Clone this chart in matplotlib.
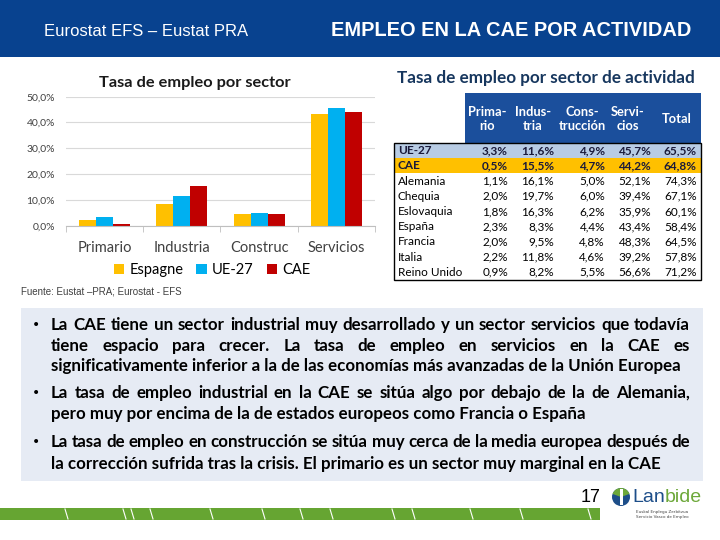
import numpy as np
import matplotlib
matplotlib.use("Agg")
import matplotlib.pyplot as plt
from matplotlib.patches import Rectangle, Circle, Wedge

# --- left chart data
sectors = ["Primario", "Industria", "Construc", "Servicios"]
espagne = [2.3, 8.3, 4.4, 43.4]
ue27 = [3.3, 11.6, 4.9, 45.7]
cae = [0.5, 15.5, 4.7, 44.2]
series_names = ["Espagne", "UE-27", "CAE"]
series_colors = ["#FFC000", "#00B0F0", "#C00000"]

# --- table data
countries = ["UE-27", "CAE", "Alemania", "Chequia", "Eslovaquia", "España",
             "Francia", "Italia", "Reino Unido"]
primario = [3.3, 0.5, 1.1, 2.0, 1.8, 2.3, 2.0, 2.2, 0.9]
industria = [11.6, 15.5, 16.1, 19.7, 16.3, 8.3, 9.5, 11.8, 8.2]
construccion = [4.9, 4.7, 5.0, 6.0, 6.2, 4.4, 4.8, 4.6, 5.5]
servicios = [45.7, 44.2, 52.1, 39.4, 35.9, 43.4, 48.3, 39.2, 56.6]
total = [65.5, 64.8, 74.3, 67.1, 60.1, 58.4, 64.5, 57.8, 71.2]
table_heads = ["Prima-\nrio", "Indus-\ntria", "Cons-\ntrucción", "Servi-\ncios", "Total"]

# --- bullet texts (one list of lines per bullet, justified except last line)
bullets = [
    ["La CAE tiene un sector industrial muy desarrollado y un sector servicios que todavía",
     "tiene espacio para crecer.  La tasa de empleo en servicios en la CAE es",
     "significativamente inferior a la de las economías más avanzadas de la Unión Europea"],
    ["La tasa de empleo industrial en la CAE se sitúa algo por debajo de la de Alemania,",
     "pero muy por encima de la de estados europeos como Francia o España"],
    ["La tasa de empleo en construcción se sitúa muy cerca de la media europea después de",
     "la corrección sufrida tras la crisis. El primario es un sector muy marginal en la CAE"],
]

def pct(v):
    return f"{v:.1f}%".replace(".", ",")

W, H = 720, 540
fig = plt.figure(figsize=(7.2, 5.4), dpi=100)
r = fig.canvas.get_renderer()

# overlay in pixel coords for the slide decoration
ov = fig.add_axes([0, 0, 1, 1], zorder=0)
ov.set_xlim(0, W)
ov.set_ylim(H, 0)
ov.axis("off")

# header
ov.add_patch(Rectangle((0, 0), W, 57, color="#08428F", lw=0))
ov.text(44, 32, "Eurostat EFS – Eustat PRA", color="white", fontsize=12,
        family="Liberation Sans", va="center", ha="left")
ov.text(331, 31, "EMPLEO EN LA CAE POR ACTIVIDAD", color="white", fontsize=14.4,
        family="Liberation Sans", weight="bold", va="center", ha="left")

# --- left bar chart
ax = fig.add_axes([66 / W, 1 - 225.7 / H, 309 / W, 129 / H], zorder=2)
ax.patch.set_alpha(0)
x = np.arange(len(sectors))
bw = 0.22
for i, (vals, name, col) in enumerate(zip([espagne, ue27, cae], series_names, series_colors)):
    ax.bar(x + (i - 1) * bw, vals, bw, color=col, label=name, zorder=2)
ax.set_xlim(-0.5, len(sectors) - 0.5)
ax.set_ylim(0, 50)
ax.set_yticks(range(0, 51, 10))
ax.set_yticklabels([pct(v) for v in range(0, 51, 10)])
ax.yaxis.grid(True, color="#D9D9D9", lw=0.8)
ax.set_axisbelow(True)
for s in ["left", "top", "right"]:
    ax.spines[s].set_visible(False)
ax.spines["bottom"].set_color("#BFBFBF")
ax.tick_params(axis="y", length=0, labelsize=7.5, labelcolor="#404040", pad=8)
ax.set_xticks(x)
ax.set_xticklabels(sectors, family="Lato", fontsize=10.5, color="#404040")
ax.set_xticks(np.arange(-0.5, len(sectors), 1), minor=True)
ax.tick_params(axis="x", which="major", length=0, pad=11)
ax.tick_params(axis="x", which="minor", length=4, color="#BFBFBF")
for lab in ax.get_yticklabels():
    lab.set_family("Lato")
ax.legend(loc="center", bbox_to_anchor=(212 / W, 1 - 270 / H),
          bbox_transform=fig.transFigure, ncol=3, frameon=False,
          prop={"family": "Lato", "size": 10.5}, handlelength=0.7,
          handleheight=0.7, handletextpad=0.35, columnspacing=0.9)
ov.text(195, 83, "Tasa de empleo por sector", family="Lato", weight="bold",
        fontsize=11.8, ha="center", va="center", color="#1A1A1A")

# --- right table
ov.text(546, 78, "Tasa de empleo por sector de actividad", family="Lato",
        weight="bold", fontsize=12.3, ha="center", va="center", color="#17375E")
ov.add_patch(Rectangle((465, 93), 236, 50, color="#1B4F9C", lw=0))
head_x = [487, 533, 582, 628, 677]
for hx, ht in zip(head_x, table_heads):
    ov.text(hx, 119, ht, family="Lato", weight="bold", fontsize=9.3, color="white",
            ha="center", va="center", linespacing=1.3)

top, bot = 143, 280
rh = (bot - top) / len(countries)
ov.add_patch(Rectangle((394, top), 307, rh, color="#B8CCE4", lw=0))
ov.add_patch(Rectangle((394, top + rh), 307, rh, color="#FFC000", lw=0))
ov.add_patch(Rectangle((394, top), 307, bot - top, fill=False, ec="black", lw=1))
col_x = [508, 554, 605, 651, 697]
cols = [primario, industria, construccion, servicios, total]
for k, name in enumerate(countries):
    yc = top + rh * (k + 0.5)
    wt = "bold" if k < 2 else "normal"
    c = "#1A1A3A" if k < 2 else "black"
    ov.text(398, yc, name, family="Lato", weight=wt, fontsize=8.5, color=c,
            ha="left", va="center")
    for cx, vals in zip(col_x, cols):
        ov.text(cx, yc, pct(vals[k]), family="Lato", weight=wt, fontsize=8.5,
                color=c, ha="right", va="center")

ov.text(21, 291, "Fuente: Eustat –PRA; Eurostat - EFS", family="Liberation Sans",
        fontsize=7, color="#404040", ha="left", va="center")

# --- bullets box
ov.add_patch(Rectangle((21, 308), 682, 173, color="#E6EBF4", lw=0))
x0, x1 = 51, 690
probe = ov.text(0, 0, bullets[0][2], family="Lato", weight="bold", fontsize=10)
bfs = 10 * (682 - x0) / probe.get_window_extent(r).width
probe.remove()
line_y = [[325, 346, 366], [393, 414], [442, 464]]
for para, ys in zip(bullets, line_y):
    ov.text(32, ys[0], "•", fontsize=10, ha="left", va="center")
    for j, (line, y) in enumerate(zip(para, ys)):
        kw = dict(family="Lato", weight="bold", fontsize=bfs, va="center", color="black")
        if j == len(para) - 1:
            ov.text(x0, y, line, ha="left", **kw)
            continue
        words = line.split()
        ts = [ov.text(0, y, wd, ha="left", **kw) for wd in words]
        ws = [t.get_window_extent(r).width for t in ts]
        gap = (x1 - x0 - sum(ws)) / (len(words) - 1)
        xx = x0
        for t, wdt in zip(ts, ws):
            t.set_x(xx)
            xx += wdt + gap

# --- footer
ov.add_patch(Rectangle((0, 508), 600, 12, color="#66A532", lw=0))
for sx in [65, 123, 131, 150, 210, 262, 300, 330, 392, 412, 470, 520, 588]:
    ov.plot([sx, sx + 3], [509, 519], color="white", lw=0.8)
ov.text(601, 497, "17", family="Liberation Sans", fontsize=13, ha="right", va="center")
ov.add_patch(Circle((621, 497), 9, color="#1D4E89", lw=0))
ov.add_patch(Wedge((621, 497), 9, 200, 340, color="#6DA83A", lw=0))
ov.add_patch(Rectangle((619.5, 489), 3, 16, color="white", lw=0))
t1 = ov.text(632, 497, "Lan", family="Liberation Sans", fontsize=14, color="#1D4E89",
             ha="left", va="center")
lw1 = t1.get_window_extent(r).width
ov.text(632 + lw1, 497, "bide", family="Liberation Sans", fontsize=14, color="#6DA83A",
        ha="left", va="center")
ov.text(636, 512, "Euskal Enplegu Zerbitzua", fontsize=3, color="#444444", ha="left", va="center")
ov.text(636, 517, "Servicio Vasco de Empleo", fontsize=3, color="#444444", ha="left", va="center")

fig.savefig("out.png", dpi=100)
